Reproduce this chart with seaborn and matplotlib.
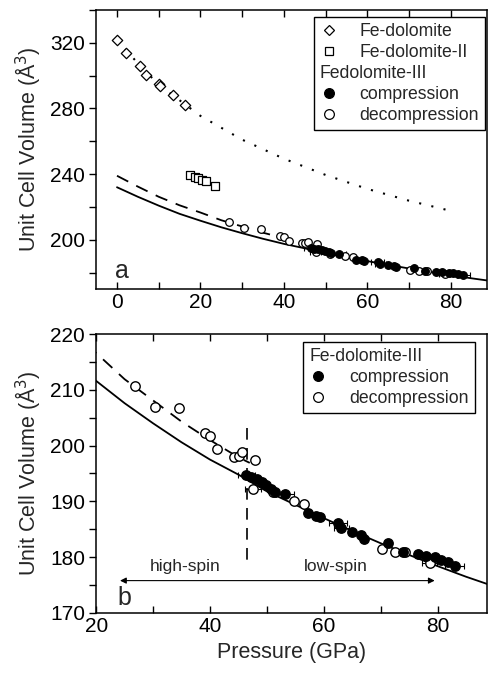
import seaborn as sns
import matplotlib.pyplot as plt
from matplotlib.lines import Line2D
from matplotlib.ticker import MultipleLocator

# Fe-dolomite (open diamonds), panel a
fe1_p = [0.0, 2.2, 5.5, 7.0, 10.0, 10.2, 13.5, 16.3]
fe1_v = [321.8, 313.9, 306.0, 300.5, 295.0, 294.0, 288.4, 282.0]

# Fe-dolomite-II (open squares), panel a
fe2_p = [17.5, 18.8, 19.3, 20.3, 21.3, 23.4]
fe2_v = [239.6, 238.2, 237.5, 236.3, 235.6, 232.6]

# Fe-dolomite-III, compression
comp_p = [46.4, 47.3, 48.2, 49.1, 49.9, 50.8, 51.4, 53.2, 57.2, 58.7, 59.3, 62.5,
          63.1, 65.0, 66.5, 67.0, 71.3, 73.9, 76.5, 78.0, 79.5, 80.6, 81.8, 83.0]
comp_v = [194.7, 194.4, 194.1, 193.5, 192.9, 192.3, 191.7, 191.4, 187.9, 187.4, 187.2, 186.2,
          185.2, 184.6, 184.0, 183.2, 182.5, 180.9, 180.6, 180.3, 180.0, 179.5, 179.2, 178.5]
comp_err = [1.5, 0, 0, 0, 0, 0, 0, 1.6, 0, 0, 0, 1.6,
            1.3, 0, 0, 0, 0, 0, 0, 0, 0, 0, 0, 1.6]

# Fe-dolomite-III, decompression
dec_p = [26.8, 30.4, 34.6, 39.1, 40.0, 41.2, 44.3, 45.1, 45.7, 47.9, 47.6, 51.1,
         54.7, 56.6, 70.2, 72.5, 74.3, 78.6]
dec_v = [210.7, 207.0, 206.7, 202.2, 201.8, 199.4, 198.0, 198.1, 198.8, 197.4, 192.3, 191.6,
         190.0, 189.6, 181.4, 181.0, 181.0, 178.9]
dec_err = [0, 0, 0, 0, 0, 0, 0, 0, 0, 0, 1.4, 0,
           0, 0, 0, 0, 0, 1.3]

# EoS curves
eos1_p = [0, 5, 10, 20, 30, 40, 50, 60, 70, 81]
eos1_v = [322.0, 307.5, 294.5, 275.5, 261.0, 249.4, 239.5, 231.0, 223.8, 217.0]
hs_p = [0, 5, 10, 15, 20, 25, 30, 35, 40, 45, 47]
hs_v = [239.0, 232.4, 226.2, 221.0, 216.6, 211.9, 208.1, 204.3, 201.0, 197.9, 196.9]
ls_p = [0, 5, 10, 15, 20, 25, 30, 35, 40, 45, 50, 55, 60, 65, 70, 75, 80, 85, 89]
ls_v = [232.0, 226.2, 220.8, 215.8, 211.6, 207.6, 204.0, 200.6, 197.5, 194.8, 191.8,
        189.4, 187.0, 184.7, 182.5, 180.4, 178.4, 176.5, 175.1]

sns.set_theme(style="ticks")
plt.rcParams['font.family'] = ['Liberation Sans', 'DejaVu Sans']
plt.rcParams['axes.linewidth'] = 1.1

fig = plt.figure(figsize=(4.88, 6.73), dpi=100)
ax1 = fig.add_axes([0.197, 0.5706, 0.801, 0.4145])
ax2 = fig.add_axes([0.197, 0.0892, 0.801, 0.4145])

ylab = "Unit Cell Volume (Å$^{3}$)"
dash = (0, (7, 5))


def curves(ax):
    sns.lineplot(x=ls_p, y=ls_v, ax=ax, color="black", lw=1.3, estimator=None, sort=False)
    sns.lineplot(x=hs_p, y=hs_v, ax=ax, color="black", lw=1.3, linestyle=dash,
                 estimator=None, sort=False)


def fe3_points(ax, s, ew):
    ax.errorbar(dec_p, dec_v, xerr=dec_err, fmt="none", ecolor="black", elinewidth=0.8,
                capsize=2.5, capthick=0.8)
    ax.errorbar(comp_p, comp_v, xerr=comp_err, fmt="none", ecolor="black", elinewidth=0.8,
                capsize=2.5, capthick=0.8)
    sns.scatterplot(x=dec_p, y=dec_v, ax=ax, marker="o", s=s, color="white",
                    edgecolor="black", linewidth=ew, zorder=3)
    sns.scatterplot(x=comp_p, y=comp_v, ax=ax, marker="o", s=s, color="black",
                    edgecolor="black", linewidth=ew, zorder=4)


# ---- panel a ----
sns.lineplot(x=eos1_p, y=eos1_v, ax=ax1, color="black", lw=1.5, linestyle=(0, (1, 5)),
             estimator=None, sort=False)
curves(ax1)
sns.scatterplot(x=fe1_p, y=fe1_v, ax=ax1, marker="D", s=28, color="white",
                edgecolor="black", linewidth=0.9, zorder=3)
sns.scatterplot(x=fe2_p, y=fe2_v, ax=ax1, marker="s", s=40, color="white",
                edgecolor="black", linewidth=0.9, zorder=3)
fe3_points(ax1, 30, 0.9)

ax1.set_xlim(-5, 88.7)
ax1.set_ylim(170, 340)
ax1.xaxis.set_major_locator(MultipleLocator(20))
ax1.xaxis.set_minor_locator(MultipleLocator(10))
ax1.yaxis.set_major_locator(MultipleLocator(40))
ax1.yaxis.set_minor_locator(MultipleLocator(20))
ax1.set_ylabel(ylab, fontsize=15.5)
ax1.text(1.3, 176.5, "a", fontsize=18, ha="center", va="baseline")

mk = dict(color="black", linestyle="none", markeredgewidth=0.9)
h1 = [Line2D([], [], marker="D", markersize=4.8, markerfacecolor="white", **mk),
      Line2D([], [], marker="s", markersize=6, markerfacecolor="white", **mk),
      Line2D([], [], linestyle="none"),
      Line2D([], [], marker="o", markersize=7, markerfacecolor="black", **mk),
      Line2D([], [], marker="o", markersize=7, markerfacecolor="white", **mk)]
l1 = ["Fe-dolomite", "Fe-dolomite-II", "Fedolomite-III", "compression", "decompression"]
leg1 = ax1.legend(h1, l1, loc="upper right", bbox_to_anchor=(0.995, 0.975), borderaxespad=0,
                  fontsize=12.7, frameon=True, fancybox=False, edgecolor="black",
                  framealpha=1, handlelength=1.0, handletextpad=1.25, labelspacing=0.22,
                  borderpad=0.35)
leg1.get_frame().set_linewidth(1.0)
try:
    rows = leg1._legend_handle_box.get_children()[0].get_children()
    rows[2].get_children().pop(0)
except Exception:
    pass

# ---- panel b ----
curves(ax2)
fe3_points(ax2, 46, 1.0)
ax2.plot([46.5, 46.5], [203.1, 179.3], color="black", lw=1.2, linestyle=dash)
ax2.annotate("", xy=(24.2, 175.8), xytext=(79.5, 175.8),
             arrowprops=dict(arrowstyle="<|-|>", lw=0.8, color="black", mutation_scale=9,
                             shrinkA=0, shrinkB=0))
ax2.text(35.6, 177.6, "high-spin", fontsize=12.5, ha="center", va="baseline")
ax2.text(62.1, 177.6, "low-spin", fontsize=12.5, ha="center", va="baseline")
ax2.text(24.9, 171.4, "b", fontsize=18, ha="center", va="baseline")

ax2.set_xlim(20, 88.7)
ax2.set_ylim(170, 220)
ax2.xaxis.set_major_locator(MultipleLocator(20))
ax2.xaxis.set_minor_locator(MultipleLocator(10))
ax2.yaxis.set_major_locator(MultipleLocator(10))
ax2.yaxis.set_minor_locator(MultipleLocator(5))
ax2.set_ylabel(ylab, fontsize=15.5)
ax2.set_xlabel("Pressure (GPa)", fontsize=15.5)

h2 = [h1[3], h1[4]]
leg2 = ax2.legend(h2, ["compression", "decompression"], title="Fe-dolomite-III",
                  alignment="left", title_fontsize=12.7, loc="upper right",
                  bbox_to_anchor=(0.969, 0.972), borderaxespad=0, fontsize=12.7,
                  frameon=True, fancybox=False, edgecolor="black", framealpha=1,
                  handlelength=1.0, handletextpad=1.25, labelspacing=0.22, borderpad=0.35)
leg2.get_frame().set_linewidth(1.0)

for ax in (ax1, ax2):
    for side in ax.spines.values():
        side.set_visible(True)
        side.set_linewidth(1.1)
        side.set_color("black")
    ax.tick_params(axis="x", which="both", direction="in", top=True, bottom=True,
                   length=5, width=1.0, labelsize=15, colors="black")
    ax.tick_params(axis="y", which="both", direction="out", left=True, right=False,
                   length=5, width=1.0, labelsize=15, colors="black")
    ax.tick_params(axis="both", which="major", pad=3)
    ax.yaxis.set_label_coords(-0.135, 0.5)

fig.savefig("out.png", dpi=100)
